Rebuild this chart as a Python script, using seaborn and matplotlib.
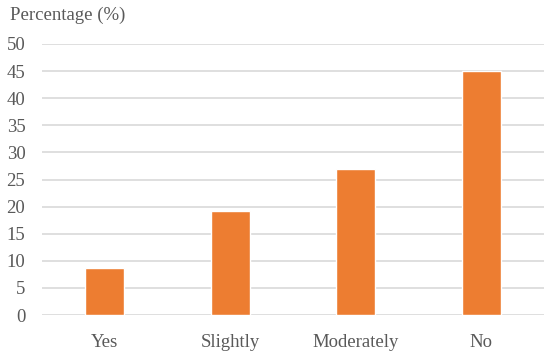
import matplotlib
matplotlib.use('Agg')
import matplotlib.pyplot as plt
import seaborn as sns
import pandas as pd

# Chart values
categories = ['Yes', 'Slightly', 'Moderately', 'No']
percentages = [8.7, 19.2, 27.0, 45.1]
y_ticks = [0, 5, 10, 15, 20, 25, 30, 35, 40, 45, 50]

df = pd.DataFrame({'Answer': categories, 'Percentage': percentages})

sns.set_style('white')
plt.rcParams['font.family'] = ['Liberation Serif', 'DejaVu Serif']

text_color = '#595959'

fig = plt.figure(figsize=(5.5, 3.56), dpi=100)
ax = fig.add_axes([42 / 550, 1 - 315 / 356, 502 / 550, 271 / 356])

sns.barplot(data=df, x='Answer', y='Percentage', color='#ED7D31',
            width=0.31, saturation=1, ax=ax, zorder=3)

ax.set_ylim(0, 50)
ax.set_yticks(y_ticks)
ax.yaxis.grid(True, color='#D9D9D9', linewidth=1.2, zorder=0)
ax.set_axisbelow(True)
for s in ax.spines.values():
    s.set_visible(False)

ax.tick_params(axis='both', length=0, labelsize=13.5, labelcolor=text_color)
ax.tick_params(axis='y', pad=12)
ax.tick_params(axis='x', pad=14)
ax.set_xlabel('')
ax.set_ylabel('')

fig.text(10 / 550, 1 - 15 / 356, 'Percentage (%)', fontsize=13.5,
         color=text_color, ha='left', va='center')

fig.savefig('out.png', dpi=100)
